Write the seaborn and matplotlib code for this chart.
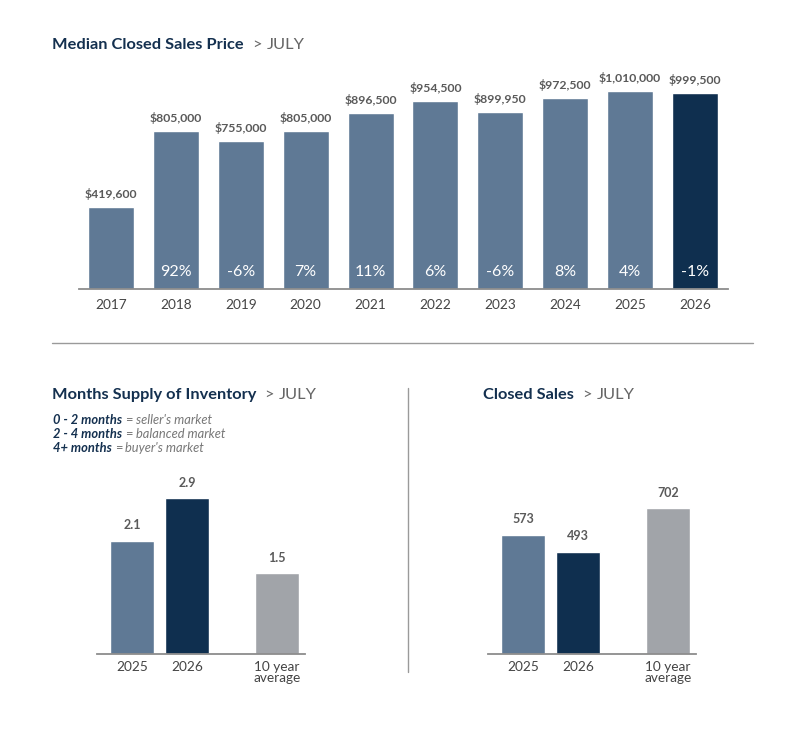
import numpy as np
import pandas as pd
import seaborn as sns
import matplotlib.pyplot as plt

# Datos
years = ["2017", "2018", "2019", "2020", "2021", "2022", "2023", "2024", "2025", "2026"]
prices = [419600, 805000, 755000, 805000, 896500, 954500, 899950, 972500, 1010000, 999500]
changes = ["", "92%", "-6%", "7%", "11%", "6%", "-6%", "8%", "4%", "-1%"]

compare_labels = ["2025", "2026", "10 year\naverage"]
supply_values = [2.1, 2.9, 1.5]
sales_values = [573, 493, 702]

# Colores
MED = "#5f7995"
DARK = "#0f2f4f"
GREY = "#a1a4a9"
NAVY = "#14304f"
TXT = "#5a5a5a"
TICK = "#444444"

W, H = 806, 730

sns.set_theme(style="white")
plt.rcParams["font.family"] = ["Lato", "DejaVu Sans"]

fig = plt.figure(figsize=(W / 100, H / 100), dpi=100)


def px_axes(x0, x1, y_top, y_bot):
    return fig.add_axes([x0 / W, 1 - y_bot / H, (x1 - x0) / W, (y_bot - y_top) / H])


def style_ax(ax):
    for s in ["top", "right", "left"]:
        ax.spines[s].set_visible(False)
    ax.spines["bottom"].set_color("#8c8c8c")
    ax.spines["bottom"].set_linewidth(1.3)
    ax.set_yticks([])
    ax.set_xlabel("")
    ax.set_ylabel("")
    ax.tick_params(axis="x", length=0, labelsize=9.8, labelcolor=TICK)


renderer = fig.canvas.get_renderer()


def put_parts(x, y, parts):
    cur = x
    for s, gap, kw in parts:
        t = fig.text(cur / W, 1 - y / H, s, ha="left", va="center", **kw)
        bb = t.get_window_extent(renderer)
        cur = bb.x1 + gap


def title(x, y, main):
    put_parts(x, y, [(main, 9, dict(fontsize=11.8, fontweight="bold", color=NAVY)),
                     ("> ", 0, dict(fontsize=11.8, color="#666666")),
                     ("JULY", 0, dict(fontsize=11.8, color="#666666"))])


# ---------------- Median Closed Sales Price ----------------
df_price = pd.DataFrame({"year": years, "price": prices})
ax1 = px_axes(78.5, 727.5, 63, 289)
sns.barplot(data=df_price, x="year", y="price", hue="year",
            palette=[MED] * 9 + [DARK], legend=False, width=0.71,
            saturation=1, ax=ax1)
ax1.set_xlim(-0.5, 9.5)
ax1.set_ylim(0, 1150000)
style_ax(ax1)
ax1.tick_params(axis="x", pad=7)
for i, (p, c) in enumerate(zip(prices, changes)):
    ax1.annotate(f"${p:,}", (i, p), xytext=(0, 5), textcoords="offset points",
                 ha="center", va="bottom", fontsize=8.8, fontweight="bold", color=TXT)
    if c:
        ax1.annotate(c, (i, 0), xytext=(0, 12.5), textcoords="offset points",
                     ha="center", va="center", fontsize=11.5, color="white")

title(52, 45, "Median Closed Sales Price")

# lineas divisorias
fig.add_artist(plt.Line2D([52 / W, 753 / W], [1 - 343 / H, 1 - 343 / H],
                          color="#9a9a9a", lw=1))
fig.add_artist(plt.Line2D([408 / W, 408 / W], [1 - 388 / H, 1 - 672 / H],
                          color="#9a9a9a", lw=1))

# ---------------- posiciones compartidas ----------------
positions = [0, 1, 2.64]
pal3 = [MED, DARK, GREY]


def small_chart(ax, values, fmt, ymax):
    d = pd.DataFrame({"pos": positions, "label": compare_labels, "val": values})
    sns.barplot(data=d, x="pos", y="val", hue="label", palette=pal3,
                legend=False, native_scale=True, dodge=False, width=0.8,
                saturation=1, ax=ax)
    ax.set_xlim(-0.64, 3.15)
    ax.set_ylim(0, ymax)
    style_ax(ax)
    ax.set_xticks(positions, compare_labels)
    plt.setp(ax.get_xticklabels(), linespacing=0.9)
    ax.tick_params(axis="x", pad=5)
    for p, v in zip(positions, values):
        ax.annotate(fmt(v), (p, v), xytext=(0, 7), textcoords="offset points",
                    ha="center", va="bottom", fontsize=9, fontweight="bold", color=TXT)


# ---------------- Months Supply of Inventory ----------------
ax2 = px_axes(97, 305, 466, 654)
small_chart(ax2, supply_values, lambda v: f"{v:.1f}", 3.5)

title(52, 395, "Months Supply of Inventory")

legend_rows = [("0 - 2 months", "seller's market"),
               ("2 - 4 months", "balanced market"),
               ("4+ months", "buyer's market")]
for k, (a, b) in enumerate(legend_rows):
    put_parts(53, 420 + k * 14, [(a, 3, dict(fontsize=9.3, fontweight="bold",
                                              style="italic", color=NAVY)),
                                 ("=", 3, dict(fontsize=9.3, color="#777777")),
                                 (b, 0, dict(fontsize=9.3, style="italic",
                                             color="#777777"))])

# ---------------- Closed Sales ----------------
ax3 = px_axes(488, 696, 488, 654)
small_chart(ax3, sales_values, lambda v: f"{v:d}", 800)

title(483, 395, "Closed Sales")

fig.savefig("out.png", dpi=100, facecolor="white")
